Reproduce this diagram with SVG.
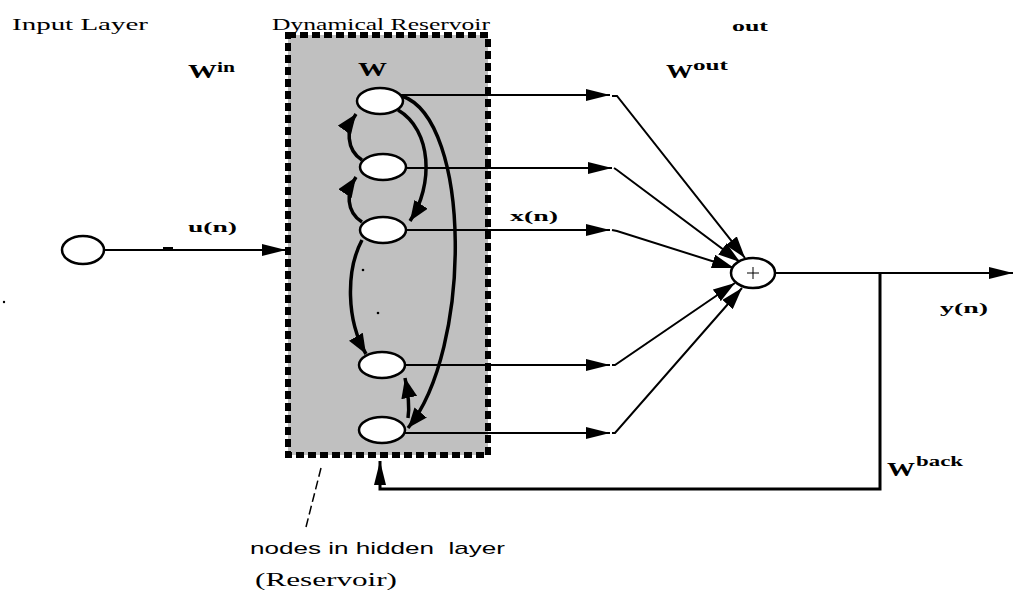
<svg xmlns="http://www.w3.org/2000/svg" width="1015" height="592" viewBox="0 0 1015 592">
<style>
.t{font-family:"Liberation Serif","Times New Roman",serif;fill:#000}
.b{font-weight:bold}
.s{font-family:"Liberation Sans",Arial,sans-serif;fill:#000;white-space:pre}
.ln{fill:none;stroke:#000;stroke-width:2}
.cv{fill:none;stroke:#000;stroke-width:3.5}
.nd{fill:#fff;stroke:#000;stroke-width:2.5}
</style>
<defs>
<marker id="ah" viewBox="0 0 24 12" refX="24" refY="6" markerWidth="24" markerHeight="12" markerUnits="userSpaceOnUse" orient="auto">
<path d="M0,0 L24,6 L0,12 Z" fill="#000"/>
</marker>
<marker id="ah2" viewBox="0 0 22 14" refX="22" refY="7" markerWidth="22" markerHeight="14" markerUnits="userSpaceOnUse" orient="auto">
<path d="M0,0 L22,7 L0,14 Z" fill="#000"/>
</marker>
<marker id="ah3" viewBox="0 0 20 16" refX="20" refY="8" markerWidth="20" markerHeight="16" markerUnits="userSpaceOnUse" orient="auto">
<path d="M0,0 L20,8 L0,16 Z" fill="#000"/>
</marker>
</defs>
<rect width="1015" height="592" fill="#fff"/>

<g id="labels">
<text class="t" x="12" y="30" font-size="17" textLength="136" lengthAdjust="spacingAndGlyphs">Input Layer</text>
<text class="t" x="272" y="30" font-size="17" textLength="218" lengthAdjust="spacingAndGlyphs">Dynamical Reservoir</text>
<text class="t b" x="732" y="31" font-size="15" textLength="36" lengthAdjust="spacingAndGlyphs">out</text>
<text class="t b" x="188" y="78" font-size="19" textLength="29" lengthAdjust="spacingAndGlyphs">W</text>
<text class="t b" x="217" y="72" font-size="14" textLength="18" lengthAdjust="spacingAndGlyphs">in</text>
<text class="t b" x="666" y="78" font-size="19" textLength="27" lengthAdjust="spacingAndGlyphs">W</text>
<text class="t b" x="693" y="70" font-size="14" textLength="35" lengthAdjust="spacingAndGlyphs">out</text>
<text class="t b" x="188" y="232" font-size="15" textLength="49" lengthAdjust="spacingAndGlyphs">u(n)</text>
<text class="t b" x="510" y="221" font-size="15" textLength="48" lengthAdjust="spacingAndGlyphs">x(n)</text>
<text class="t b" x="940" y="313" font-size="15" textLength="48" lengthAdjust="spacingAndGlyphs">y(n)</text>
<text class="t b" x="887" y="476" font-size="19" textLength="28" lengthAdjust="spacingAndGlyphs">W</text>
<text class="t b" x="916" y="466" font-size="14" textLength="47" lengthAdjust="spacingAndGlyphs">back</text>
<text class="s" x="250" y="554" font-size="17" textLength="255" lengthAdjust="spacingAndGlyphs" xml:space="preserve">nodes in hidden  layer</text>
<text class="t" x="255" y="586" font-size="18" textLength="142" lengthAdjust="spacingAndGlyphs">(Reservoir)</text>
<circle cx="4" cy="302" r="1.2" fill="#000"/>
</g>

<g id="reservoir">
<rect x="288" y="35" width="200" height="420" fill="#c0c0c0" stroke="#000" stroke-width="6" stroke-dasharray="8 4"/>
<text class="t b" x="358" y="76" font-size="18" textLength="29" lengthAdjust="spacingAndGlyphs">W</text>
<circle cx="363" cy="270" r="1.3" fill="#000"/>
<circle cx="378" cy="313" r="1.3" fill="#000"/>
</g>

<g id="connectors">
<!-- input -->
<path class="ln" d="M104,250 L286,250" marker-end="url(#ah)"/>
<path d="M163,248.5 L173,248.5" stroke="#000" stroke-width="3"/>
<!-- reservoir to readout -->
<path class="ln" d="M400,95 L610,95" marker-end="url(#ah)"/>
<path class="ln" d="M405,168 L612,168" marker-end="url(#ah)"/>
<path class="ln" d="M405,230 L610,230" marker-end="url(#ah)"/>
<path class="ln" d="M404,365 L610,365" marker-end="url(#ah)"/>
<path class="ln" d="M404,433 L610,433" marker-end="url(#ah)"/>
<!-- converging -->
<path class="ln" d="M612,96 L617,96 L745,258" marker-end="url(#ah2)"/>
<path class="ln" d="M614,168 L617,170 L740,262" marker-end="url(#ah2)"/>
<path class="ln" d="M612,230 L617,231 L734,268" marker-end="url(#ah2)"/>
<path class="ln" d="M612,365 L615,365 L735,283" marker-end="url(#ah2)"/>
<path class="ln" d="M612,433 L615,433 L742,288" marker-end="url(#ah2)"/>
<!-- output -->
<path class="ln" d="M775,273 L1013,273" marker-end="url(#ah)"/>
<!-- feedback -->
<path d="M880,273 L880,489 L380,489 L380,461" fill="none" stroke="#000" stroke-width="3" marker-end="url(#ah)"/>
<!-- leader -->
<path d="M321,468 L306,527" fill="none" stroke="#000" stroke-width="1.5" stroke-dasharray="9 4"/>
<!-- recurrent curves -->
<path class="cv" d="M362,160 C346,150 346,128 356,114" marker-end="url(#ah3)"/>
<path class="cv" d="M362,222 C346,212 346,192 356,177" marker-end="url(#ah3)"/>
<path class="cv" d="M398,110 C432,130 434,185 410,221" marker-end="url(#ah3)"/>
<path class="cv" d="M402,96 C472,120 472,350 408,428" marker-end="url(#ah3)"/>
<path class="cv" d="M362,240 C346,270 346,320 366,354" marker-end="url(#ah3)"/>
<path class="cv" d="M408,418 C410,405 408,392 405,378" marker-end="url(#ah3)"/>
</g>

<g id="input-node"><ellipse class="nd" cx="83" cy="250" rx="21" ry="14"/></g>
<g id="node1"><ellipse class="nd" cx="380" cy="101" rx="23" ry="13"/></g>
<g id="node2"><ellipse class="nd" cx="383" cy="167" rx="23" ry="13"/></g>
<g id="node3"><ellipse class="nd" cx="383" cy="230" rx="23" ry="13"/></g>
<g id="node4"><ellipse class="nd" cx="382" cy="365" rx="23" ry="13"/></g>
<g id="node5"><ellipse class="nd" cx="382" cy="430" rx="23" ry="13"/></g>
<g id="sum">
<ellipse class="nd" cx="753" cy="273" rx="22" ry="15"/>
<path d="M747,273 L759,273 M753,267 L753,279" stroke="#000" stroke-width="1"/>
</g>
</svg>
